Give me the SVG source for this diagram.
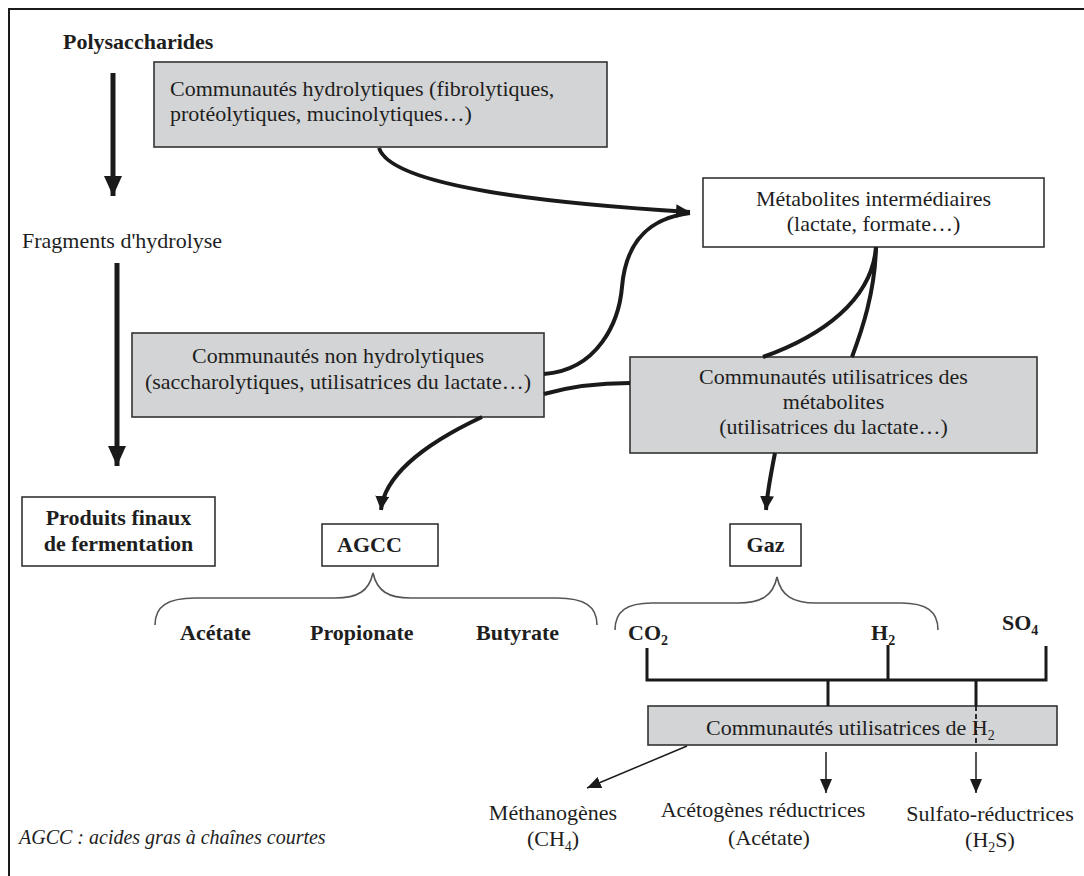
<svg xmlns="http://www.w3.org/2000/svg" width="1084" height="876" viewBox="0 0 1084 876">
  <style>
    text { font-family: "Liberation Serif", "Times New Roman", serif; font-size: 22px; fill: #1e1e1e; }
    .b { font-weight: bold; }
    .c { text-anchor: middle; }
    .it { font-style: italic; font-size: 20px; }
    .sub { font-size: 14px; }
    .box { fill: #ffffff; stroke: #333; stroke-width: 1.6; }
    .gbox { fill: #d3d4d5; stroke: #333; stroke-width: 1.6; }
    .thick { fill: none; stroke: #1a1a1a; stroke-width: 4; stroke-linecap: butt; }
    .shaft { fill: none; stroke: #1a1a1a; stroke-width: 5; }
    .thin { fill: none; stroke: #1a1a1a; stroke-width: 1.5; }
    .brace { fill: none; stroke: #555; stroke-width: 1.6; }
    .bar { fill: none; stroke: #1a1a1a; stroke-width: 3; }
    .dash { fill: none; stroke: #1a1a1a; stroke-width: 1.8; stroke-dasharray: 5 3; }
  </style>
  <defs>
    <marker id="headBig" viewBox="0 0 20 18" refX="20" refY="9" markerWidth="20" markerHeight="18" markerUnits="userSpaceOnUse" orient="auto">
      <path d="M0,0 L20,9 L0,18 Z" fill="#1a1a1a"/>
    </marker>
    <marker id="headMid" viewBox="0 0 14 14" refX="14" refY="7" markerWidth="14" markerHeight="14" markerUnits="userSpaceOnUse" orient="auto">
      <path d="M0,0 L14,7 L0,14 Z" fill="#1a1a1a"/>
    </marker>
    <marker id="headSmall" viewBox="0 0 14 12" refX="14" refY="6" markerWidth="14" markerHeight="12" markerUnits="userSpaceOnUse" orient="auto">
      <path d="M0,0 L14,6 L0,12 Z" fill="#1a1a1a"/>
    </marker>
  </defs>

  <!-- frame -->
  <path d="M9,876 L9,9 L1084,9" fill="none" stroke="#1a1a1a" stroke-width="2"/>

  <!-- left column -->
  <g id="polysaccharides">
    <text class="b" x="63" y="49">Polysaccharides</text>
  </g>
  <g id="fragments">
    <text x="22" y="248">Fragments d'hydrolyse</text>
  </g>
  <g id="produits-finaux">
    <rect class="box" x="22" y="497" width="193" height="69"/>
    <text class="b c" x="118.5" y="525">Produits finaux</text>
    <text class="b c" x="118.5" y="551">de fermentation</text>
  </g>

  <!-- communities and metabolites -->
  <g id="hydrolytiques">
    <rect class="gbox" x="154" y="62" width="453" height="85"/>
    <text x="170" y="96">Communautés hydrolytiques (fibrolytiques,</text>
    <text x="170" y="121">protéolytiques, mucinolytiques…)</text>
  </g>
  <g id="metabolites-intermediaires">
    <rect class="box" x="703" y="178" width="341" height="69"/>
    <text class="c" x="873.5" y="206">Métabolites intermédiaires</text>
    <text class="c" x="873.5" y="231">(lactate, formate…)</text>
  </g>
  <g id="non-hydrolytiques">
    <rect class="gbox" x="132" y="333" width="412" height="84"/>
    <text class="c" x="338" y="363">Communautés non hydrolytiques</text>
    <text class="c" x="338" y="389">(saccharolytiques, utilisatrices du lactate…)</text>
  </g>
  <g id="utilisatrices-metabolites">
    <rect class="gbox" x="630" y="357" width="407" height="96"/>
    <text class="c" x="833.5" y="384">Communautés utilisatrices des</text>
    <text class="c" x="833.5" y="409">métabolites</text>
    <text class="c" x="833.5" y="434">(utilisatrices du lactate…)</text>
  </g>
  <g id="agcc">
    <rect class="box" x="322" y="524" width="116" height="42"/>
    <text class="b" x="337" y="552">AGCC</text>
  </g>
  <g id="gaz">
    <rect class="box" x="730" y="524" width="71" height="42"/>
    <text class="b c" x="765.5" y="552">Gaz</text>
  </g>

  <!-- short-chain fatty acids -->
  <g id="agcc-produits">
    <path class="brace" d="M155,625 C155,606 168,598 195,598 L335,598 C358,598 369,591 373,573 C377,591 388,598 411,598 L557,598 C584,598 597,606 597,625"/>
    <text class="b" x="180" y="640">Acétate</text>
    <text class="b" x="310" y="640">Propionate</text>
    <text class="b" x="476" y="640">Butyrate</text>
  </g>
  <!-- gases -->
  <g id="gaz-produits">
    <path class="brace" d="M615,630 C615,611 627,603 652,603 L738,603 C761,603 773,596 777,577 C781,596 793,603 816,603 L901,603 C926,603 938,611 938,630"/>
    <text class="b" x="628" y="640">CO<tspan class="sub" dy="5">2</tspan></text>
    <text class="b" x="871" y="640">H<tspan class="sub" dy="5">2</tspan></text>
  </g>
  <g id="so4">
    <text class="b" x="1002" y="630">SO<tspan class="sub" dy="5">4</tspan></text>
  </g>

  <g id="utilisatrices-h2">
    <rect class="gbox" x="648" y="706" width="409" height="39"/>
    <text x="706" y="735">Communautés utilisatrices de H<tspan class="sub" dy="5">2</tspan></text>
  </g>

  <g id="methanogenes">
    <text class="c" x="553" y="820">Méthanogènes</text>
    <text class="c" x="553" y="846">(CH<tspan class="sub" dy="5">4</tspan><tspan dy="-5">)</tspan></text>
  </g>
  <g id="acetogenes">
    <text class="c" x="763" y="817">Acétogènes réductrices</text>
    <text class="c" x="769" y="845">(Acétate)</text>
  </g>
  <g id="sulfato-reductrices">
    <text class="c" x="990" y="821">Sulfato-réductrices</text>
    <text class="c" x="990" y="847">(H<tspan class="sub" dy="5">2</tspan><tspan dy="-5">S)</tspan></text>
  </g>

  <g id="note">
    <text class="it" x="19" y="844">AGCC : acides gras à chaînes courtes</text>
  </g>

  <!-- connectors -->
  <g id="connectors">
    <!-- main vertical flow -->
    <path class="shaft" d="M113,73 L113,196" marker-end="url(#headBig)"/>
    <path class="shaft" d="M117,263 L117,466" marker-end="url(#headBig)"/>

    <!-- towards the intermediate metabolites -->
    <path class="thick" d="M379,148 C392,188 560,204 690,212" marker-end="url(#headMid)"/>
    <path class="thick" d="M544,374 C598,370 619,322 622,287 C626,240 650,218 690,213"/>
    <!-- non-hydrolytic to metabolite users -->
    <path class="thick" d="M544,394 C572,386 596,383 630,383"/>
    <!-- intermediate metabolites to metabolite users -->
    <path class="thick" d="M876,247 C872,300 822,336 763,357"/>
    <path class="thick" d="M876,247 C875,292 862,330 852,357"/>
    <!-- to AGCC and Gaz -->
    <path class="thick" d="M482,417 C420,446 384,478 381,510" marker-end="url(#headMid)"/>
    <path class="thick" d="M775,453 C770,478 767,496 766,510" marker-end="url(#headMid)"/>

    <!-- substrate bar above the H2 users -->
    <path class="bar" d="M647,648 L647,680 L1046,680 L1046,646"/>
    <path class="bar" d="M888,645 L888,680"/>
    <path class="bar" d="M828,680 L828,706"/>
    <path class="bar" d="M976,680 L976,706"/>
    <path class="dash" d="M976,706 L976,745"/>

    <!-- H2 users to end products -->
    <path class="thin" d="M687,746 L587,788" marker-end="url(#headSmall)"/>
    <path class="thin" d="M826,752 L826,793" marker-end="url(#headSmall)"/>
    <path class="thin" d="M976,752 L976,793" marker-end="url(#headSmall)"/>
  </g>
</svg>
